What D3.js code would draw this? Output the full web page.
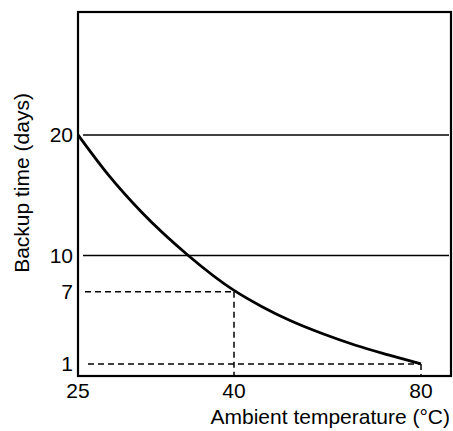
<!DOCTYPE html>
<html>
<head>
<meta charset="utf-8">
<script src="https://cdn.jsdelivr.net/npm/d3@7"></script>
<style>
  html, body { margin: 0; padding: 0; background: #fff; }
  svg { display: block; }
  text { font-family: "Liberation Sans", Arial, Helvetica, sans-serif; fill: #000; }
</style>
</head>
<body>
<svg id="chart" width="453" height="431"></svg>
<script>
// ---- data ----
const temps = [25, 27.9, 31.1, 35.6, 40, 46, 52, 59, 66, 73, 80];
const days  = [20, 16.7, 13.6, 10.0, 7.1, 5.75, 4.6, 3.5, 2.55, 1.75, 1.0];
const xTicks = [25, 40, 80];
const yTicks = [1, 7, 10, 20];
const solidLevels = [20, 10];
const dashedH = [{ day: 7, t: 40 }, { day: 1, t: 80 }];
const dashedV = [{ t: 40, day: 7 }, { t: 80, day: 1 }];
const xTitle = "Ambient temperature (\u00B0C)";
const yTitle = "Backup time (days)";

// ---- scales ----
const mLeft = 78, mRight = 451, mTop = 12, mBottom = 376;
const x = d3.scaleLinear().domain([25, 40, 80, 86.4]).range([mLeft, 234, 421, mRight]);
const y = d3.scaleLinear().domain([0, 30.2]).range([mBottom, mTop]);

const svg = d3.select("#chart");

// horizontal solid grid lines
svg.selectAll("line.solid").data(solidLevels).enter().append("line")
  .attr("x1", mLeft + 5).attr("x2", mRight - 2)
  .attr("y1", d => y(d)).attr("y2", d => y(d))
  .attr("stroke", "#000").attr("stroke-width", 1.6);

// dashed helper lines
svg.selectAll("line.dh").data(dashedH).enter().append("line")
  .attr("x1", d => mLeft + (d.day === 1 ? 10 : 7)).attr("x2", d => x(d.t))
  .attr("y1", d => y(d.day)).attr("y2", d => y(d.day))
  .attr("stroke", "#000").attr("stroke-width", 1.5).attr("stroke-dasharray", "6,4");
svg.selectAll("line.dv").data(dashedV).enter().append("line")
  .attr("x1", d => x(d.t)).attr("x2", d => x(d.t))
  .attr("y1", d => y(d.day)).attr("y2", mBottom)
  .attr("stroke", "#000").attr("stroke-width", 1.5).attr("stroke-dasharray", "6,4");

// curve
const pts = temps.map((t, i) => [t, days[i]]);
svg.append("path")
  .datum(pts)
  .attr("fill", "none").attr("stroke", "#000").attr("stroke-width", 2.8)
  .attr("d", d3.line().x(d => x(d[0])).y(d => y(d[1])).curve(d3.curveMonotoneX));

// frame
svg.append("rect")
  .attr("x", mLeft).attr("y", mTop).attr("width", mRight - mLeft).attr("height", mBottom - mTop)
  .attr("fill", "none").attr("stroke", "#000").attr("stroke-width", 2.2);

// y tick labels
svg.selectAll("text.yt").data(yTicks).enter().append("text")
  .attr("x", mLeft - 5).attr("y", d => y(d)).attr("dy", "0.35em")
  .attr("text-anchor", "end").attr("font-size", 21).text(d => d);

// x tick labels
svg.selectAll("text.xt").data(xTicks).enter().append("text")
  .attr("x", d => x(d)).attr("y", 398)
  .attr("text-anchor", "middle").attr("font-size", 21).text(d => d);

// titles
svg.append("text").attr("x", 450).attr("y", 424).attr("text-anchor", "end")
  .attr("font-size", 21).text(xTitle);
svg.append("text").attr("transform", "translate(29,183) rotate(-90)")
  .attr("text-anchor", "middle").attr("font-size", 21).text(yTitle);
</script>
</body>
</html>
